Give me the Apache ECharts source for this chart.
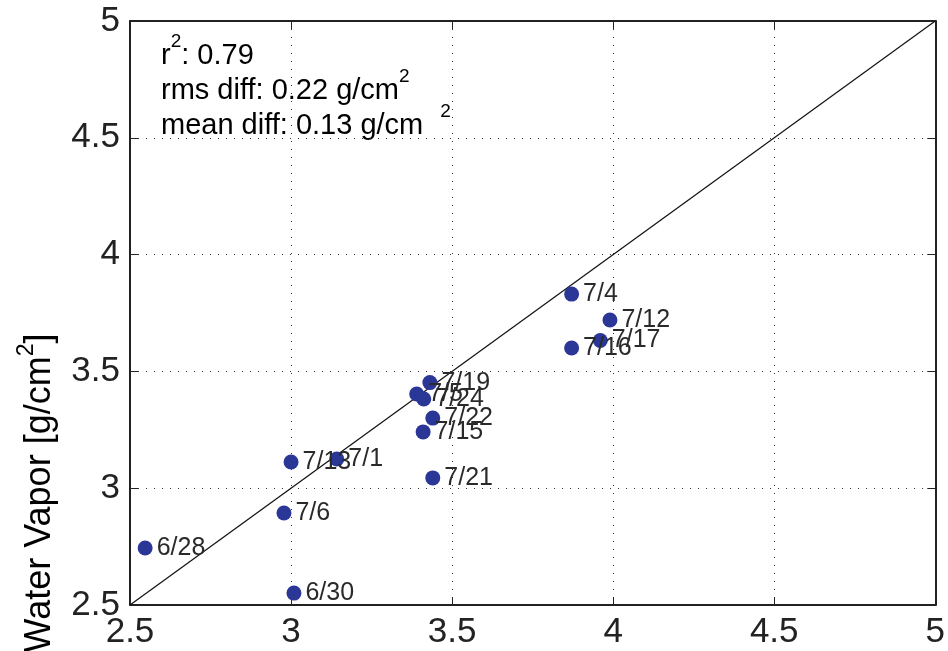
<!DOCTYPE html>
<html>
<head>
<meta charset="utf-8">
<title>Water Vapor comparison</title>
<script src="https://cdn.jsdelivr.net/npm/echarts@6/dist/echarts.min.js"></script>
<style>
  html, body { margin: 0; padding: 0; background: #fff; }
  #chart { width: 948px; height: 651px; }
</style>
</head>
<body>
<div id="chart"></div>
<script>
// Daily retrievals: reference value (x) vs. retrieved value (y), g/cm^2
var dates = ['6/28', '6/30', '7/1', '7/4', '7/5', '7/6', '7/12', '7/13',
             '7/15', '7/16', '7/17', '7/19', '7/21', '7/22', '7/24'];
var xValues = [2.547, 3.009, 3.142, 3.871, 3.390, 2.978, 3.990, 3.000,
               3.410, 3.871, 3.960, 3.431, 3.440, 3.440, 3.412];
var yValues = [2.744, 2.551, 3.125, 3.831, 3.403, 2.894, 3.720, 3.112,
               3.241, 3.600, 3.632, 3.452, 3.044, 3.300, 3.382];

// Axis range and tick labels
var axisMin = 2.5;
var axisMax = 5;
var tickStep = 0.5;
var tickLabels = ['2.5', '3', '3.5', '4', '4.5', '5'];

// 1:1 reference line
var oneToOne = [[axisMin, axisMin], [axisMax, axisMax]];

// Summary statistics
var statR2 = '0.79';
var statRms = '0.22';
var statMean = '0.13';

var points = dates.map(function (d, i) { return { name: d, value: [xValues[i], yValues[i]] }; });

var FONT = '"Liberation Sans", Arial, Helvetica, sans-serif';
var INK = '#222';

function tickFormatter(v) {
  var idx = Math.round((v - axisMin) / tickStep);
  return tickLabels[idx] !== undefined ? tickLabels[idx] : String(v);
}

function mainAxis(position, withLabels, withGrid) {
  return {
    type: 'value',
    position: position,
    min: axisMin,
    max: axisMax,
    interval: tickStep,
    axisLine: { show: true, onZero: false, lineStyle: { color: INK, width: 2 } },
    axisTick: { show: true, inside: true, length: 8, lineStyle: { color: INK, width: 1 } },
    axisLabel: {
      show: withLabels,
      margin: 10,
      fontSize: 35,
      fontFamily: FONT,
      color: INK,
      showMinLabel: true,
      showMaxLabel: true,
      formatter: tickFormatter
    },
    splitLine: {
      show: withGrid,
      lineStyle: { color: '#333', width: 1, type: [1, 7] }
    }
  };
}

var chart = echarts.init(document.getElementById('chart'), null, { renderer: 'canvas' });

var statStyle = {
  a: { fontSize: 29, fontFamily: FONT, color: INK, lineHeight: 48 },
  s: { fontSize: 19, fontFamily: FONT, color: INK, verticalAlign: 'top', lineHeight: 19 },
  g: { fontSize: 19, fontFamily: FONT, color: INK, verticalAlign: 'top', lineHeight: 19, padding: [0, 0, 0, 17] }
};

chart.setOption({
  animation: false,
  backgroundColor: '#fff',
  grid: { left: 130, top: 21, right: 12, bottom: 46, containLabel: false },
  xAxis: [mainAxis('bottom', true, true), mainAxis('top', false, false)],
  yAxis: [mainAxis('left', true, true), mainAxis('right', false, false)],
  series: [
    {
      type: 'line',
      data: oneToOne,
      xAxisIndex: 0,
      yAxisIndex: 0,
      symbol: 'none',
      lineStyle: { color: '#111', width: 1.2 },
      silent: true,
      z: 2
    },
    {
      type: 'scatter',
      data: points,
      xAxisIndex: 0,
      yAxisIndex: 0,
      symbol: 'circle',
      symbolSize: 15,
      itemStyle: { color: '#2b3797', opacity: 1 },
      label: {
        show: true,
        position: 'right',
        distance: 4,
        formatter: '{b}',
        fontSize: 25,
        fontFamily: FONT,
        color: '#2a2a2a'
      },
      z: 3
    }
  ],
  graphic: [
    {
      type: 'text',
      left: 161,
      top: 32,
      style: {
        text: '{a|r}{s|2}{a|: ' + statR2 + '}',
        rich: statStyle
      }
    },
    {
      type: 'text',
      left: 161,
      top: 67,
      style: {
        text: '{a|rms diff: ' + statRms + ' g/cm}{s|2}',
        rich: statStyle
      }
    },
    {
      type: 'text',
      left: 161,
      top: 102,
      style: {
        text: '{a|mean diff: ' + statMean + ' g/cm}{g|2}',
        rich: statStyle
      }
    },
    {
      type: 'text',
      x: 40,
      y: 493,
      rotation: Math.PI / 2,
      style: {
        text: '{a|Water Vapor [g/cm}{s|2}{a|]}',
        align: 'center',
        verticalAlign: 'middle',
        rich: {
          a: { fontSize: 36, fontFamily: FONT, color: INK, lineHeight: 50 },
          s: { fontSize: 23, fontFamily: FONT, color: INK, verticalAlign: 'top', lineHeight: 23 }
        }
      }
    }
  ]
});
</script>
</body>
</html>
